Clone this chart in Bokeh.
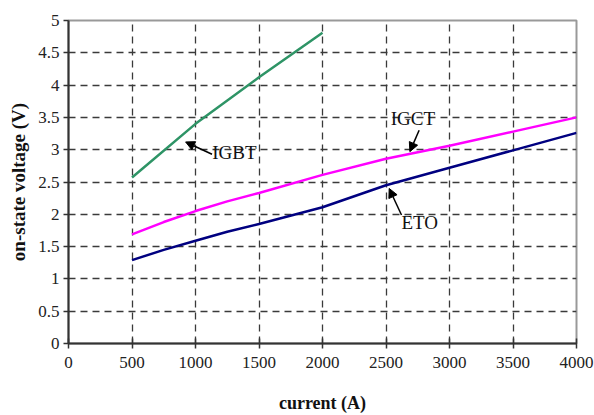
from bokeh.plotting import figure
from bokeh.models import Range1d, FixedTicker, Arrow, NormalHead, ColumnDataSource
from bokeh.core.properties import value
from bokeh.embed import file_html
from bokeh.resources import INLINE

# data
current_igbt = [500, 1000, 1500, 2000]
igbt = [2.57, 3.40, 4.12, 4.81]
current = [500, 750, 1000, 1250, 1500, 2000, 2500, 3000, 3500, 4000]
igct = [1.69, 1.88, 2.05, 2.20, 2.33, 2.61, 2.86, 3.06, 3.28, 3.50]
eto = [1.29, 1.45, 1.59, 1.73, 1.85, 2.11, 2.45, 2.72, 2.99, 3.26]
x_ticks = [0, 500, 1000, 1500, 2000, 2500, 3000, 3500, 4000]
y_ticks = [0, 0.5, 1, 1.5, 2, 2.5, 3, 3.5, 4, 4.5, 5]
labels = ["IGBT", "IGCT", "ETO"]
label_x = [1306, 2712, 2766]
label_y = [2.96, 3.48, 1.87]
arrow_x0 = [1130, 2761, 2622]
arrow_y0 = [2.93, 3.30, 1.99]
arrow_x1 = [922, 2688, 2525]
arrow_y1 = [3.12, 2.97, 2.40]

p = figure(width=594, height=415, output_backend="svg", toolbar_location=None,
           x_range=Range1d(0, 4000), y_range=Range1d(0, 5))
p.min_border_left = 68
p.min_border_right = 18
p.min_border_top = 20
p.min_border_bottom = 72
p.background_fill_color = "white"
p.border_fill_color = "white"
p.outline_line_color = "#999999"
p.outline_line_width = 2

tick_font = "Liberation Sans Narrow"
for ax in (p.xaxis[0], p.yaxis[0]):
    ax.axis_line_color = "#333333"
    ax.axis_line_width = 2
    ax.major_tick_line_color = "#333333"
    ax.major_tick_line_width = 1.5
    ax.minor_tick_line_color = None
    ax.major_label_text_font = tick_font
    ax.major_label_text_font_size = "17px"
    ax.major_label_text_color = "#222222"
    ax.axis_label_text_font = "Liberation Serif"
    ax.axis_label_text_font_style = "bold"
    ax.axis_label_text_color = "#111111"

p.xaxis.ticker = FixedTicker(ticks=x_ticks)
p.yaxis.ticker = FixedTicker(ticks=y_ticks)
p.yaxis.formatter.use_scientific = False
p.xaxis.major_tick_in = 5
p.xaxis.major_tick_out = 5
p.yaxis.major_tick_in = 0
p.yaxis.major_tick_out = 5
p.xaxis.major_label_standoff = 8
p.yaxis.major_label_standoff = 4
p.xaxis.axis_label = "current (A)"
p.yaxis.axis_label = "on-state voltage (V)"
p.xaxis.axis_label_text_font_size = "18px"
p.yaxis.axis_label_text_font_size = "19px"
p.xaxis.axis_label_standoff = 22
p.yaxis.axis_label_standoff = 6

p.xgrid.ticker = FixedTicker(ticks=x_ticks[1:-1])
p.ygrid.ticker = FixedTicker(ticks=y_ticks[1:-1])
for g in (p.xgrid[0], p.ygrid[0]):
    g.grid_line_color = "#3a3a3a"
    g.grid_line_dash = "7 5"
    g.grid_line_width = 1.3

p.line(current_igbt, igbt, line_color="#2e9466", line_width=2.5)
p.line(current, igct, line_color="#ff00ff", line_width=2.5)
p.line(current, eto, line_color="#000080", line_width=2.5)

src = ColumnDataSource(dict(x=label_x, y=label_y, t=labels))
p.text(x="x", y="y", text="t", source=src, text_font=value("Liberation Serif"),
       text_font_size="19px", text_align="center", text_baseline="middle",
       text_color="#111111")

for x0, y0, x1, y1 in zip(arrow_x0, arrow_y0, arrow_x1, arrow_y1):
    p.add_layout(Arrow(end=NormalHead(size=9, fill_color="black", line_color="black"),
                       x_start=x0, y_start=y0, x_end=x1, y_end=y1,
                       line_color="black", line_width=1.5))

open("out.html", "w").write(file_html(p, INLINE))
